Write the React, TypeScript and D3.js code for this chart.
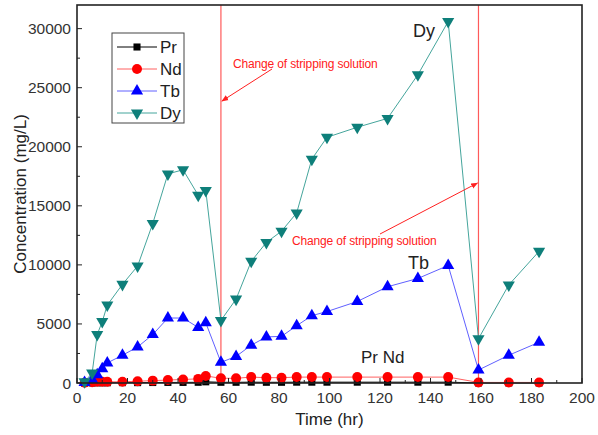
import React from "react";
import * as d3 from "d3";

// sampling times (hr)
const times = [3, 6, 8, 10, 12, 18, 24, 30, 36, 42, 48, 51, 57, 63, 69, 75, 81, 87, 93, 99, 111, 123, 135, 147, 159, 171, 183];

// concentrations (mg/L)
const pr = [0, 10, 20, 20, 20, 30, 30, 40, 50, 50, 60, 100, 60, 60, 70, 60, 60, 70, 70, 70, 70, 70, 70, 70, 5, 5, 5];
const nd = [20, 60, 100, 100, 100, 100, 150, 200, 250, 300, 350, 600, 400, 400, 500, 450, 450, 500, 500, 500, 500, 500, 500, 500, 50, 50, 50];
const tb = [50, 300, 700, 1200, 1700, 2350, 3050, 4100, 5500, 5500, 4700, 5100, 1750, 2250, 3200, 3900, 3950, 4850, 5700, 6050, 6900, 8150, 8850, 9950, 1100, 2350, 3450];
const dy = [100, 850, 4100, 5200, 6600, 8350, 9900, 13500, 17700, 18050, 15900, 16300, 5300, 7100, 10300, 11900, 12850, 14400, 18950, 20800, 21650, 22400, 26100, 30600, 3750, 8300, 11150];

const xTicks = [0, 20, 40, 60, 80, 100, 120, 140, 160, 180, 200];
const yTicks = [0, 5000, 10000, 15000, 20000, 25000, 30000];
const changeTimes = [57, 159];

const series = [
  { name: "Pr", values: pr, color: "#000000", line: "#000000", shape: "square" },
  { name: "Nd", values: nd, color: "#ff0000", line: "#ff6060", shape: "circle" },
  { name: "Tb", values: tb, color: "#0000ff", line: "#6060ff", shape: "up" },
  { name: "Dy", values: dy, color: "#0e7f7a", line: "#45a59c", shape: "down" },
];

const W = 598;
const H = 435;
const margin = { left: 77, right: 16, top: 5, bottom: 52 };
const font = "'Liberation Sans', Arial, sans-serif";

const x = d3.scaleLinear().domain([0, 200]).range([margin.left, W - margin.right]);
const y = d3.scaleLinear().domain([0, 32000]).range([H - margin.bottom, margin.top]);

const symbolPath = (shape: string) => {
  if (shape === "square") return d3.symbol(d3.symbolSquare, 50)() as string;
  if (shape === "circle") return d3.symbol(d3.symbolCircle, 78)() as string;
  return d3.symbol(d3.symbolTriangle, 64)() as string;
};

const Marker = ({ shape, cx, cy, color }: any) => (
  <path
    d={symbolPath(shape)}
    fill={color}
    transform={`translate(${cx},${cy})${shape === "down" ? " rotate(180)" : ""}`}
  />
);

export default function App() {
  const line = d3
    .line<number>()
    .x((_, i) => x(times[i]))
    .y((d) => y(d));

  const x0 = x(0), x1 = x(200), yb = y(0), yt = y(32000);
  const minorX = d3.range(10, 200, 20);
  const minorY = d3.range(2500, 32000, 5000);

  return (
    <svg width={W} height={H} style={{ position: "absolute", left: 0, top: 0, background: "#fff" }} fontFamily={font}>
      <defs>
        <marker id="arr" viewBox="0 0 10 10" refX="9" refY="5" markerWidth="7" markerHeight="7" orient="auto">
          <path d="M0,1 L10,5 L0,9 Z" fill="#ff2020" />
        </marker>
      </defs>

      {/* change of stripping solution lines */}
      {changeTimes.map((t) => (
        <line key={t} x1={x(t)} x2={x(t)} y1={yt} y2={yb} stroke="#ff5a5a" strokeWidth={1.2} />
      ))}

      {/* series lines */}
      {series.map((s) => (
        <path key={s.name} d={line(s.values) as string} fill="none" stroke={s.line} strokeWidth={1} />
      ))}
      {series.map((s) =>
        s.values.map((v, i) => (
          <Marker key={s.name + i} shape={s.shape} cx={x(times[i])} cy={y(v)} color={s.color} />
        ))
      )}

      {/* frame */}
      <rect x={x0} y={yt} width={x1 - x0} height={yb - yt} fill="none" stroke="#222" strokeWidth={1.6} />

      {/* x ticks */}
      {xTicks.map((t) => (
        <g key={t}>
          <line x1={x(t)} x2={x(t)} y1={yb} y2={yb - 5} stroke="#222" />
          <text x={x(t)} y={yb + 20} textAnchor="middle" fontSize={15.5} fill="#333">{t}</text>
        </g>
      ))}
      {minorX.map((t) => (
        <line key={t} x1={x(t)} x2={x(t)} y1={yb} y2={yb - 3} stroke="#222" />
      ))}

      {/* y ticks */}
      {yTicks.map((t) => (
        <g key={t}>
          <line x1={x0} x2={x0 + 5} y1={y(t)} y2={y(t)} stroke="#222" />
          <text x={x0 - 6} y={y(t) + 5.5} textAnchor="end" fontSize={15.5} fill="#333">{t}</text>
        </g>
      ))}
      {minorY.map((t) => (
        <line key={t} x1={x0} x2={x0 + 3} y1={y(t)} y2={y(t)} stroke="#222" />
      ))}

      {/* axis titles */}
      <text x={(x0 + x1) / 2} y={H - 10} textAnchor="middle" fontSize={17} fill="#222">Time (hr)</text>
      <text transform={`translate(26,${(yb + yt) / 2}) rotate(-90)`} textAnchor="middle" fontSize={17} fill="#222">
        Concentration (mg/L)
      </text>

      {/* legend */}
      <rect x={112} y={33} width={72} height={90} fill="#fff" stroke="#444" strokeWidth={1} />
      {series.map((s, i) => {
        const ly = 47 + i * 22;
        return (
          <g key={s.name}>
            <line x1={117} x2={157} y1={ly} y2={ly} stroke={s.line} />
            <Marker shape={s.shape} cx={137} cy={ly} color={s.color} />
            <text x={160} y={ly + 6} fontSize={17} fill="#222">{s.name}</text>
          </g>
        );
      })}

      {/* annotations */}
      <text x={233} y={68} fontSize={12} fill="#ff2020" letterSpacing={-0.15}>Change of stripping solution</text>
      <line x1={272} y1={69} x2={x(changeTimes[0]) + 1} y2={101} stroke="#ff2020" strokeWidth={1} markerEnd="url(#arr)" />
      <text x={292} y={245} fontSize={12} fill="#ff2020" letterSpacing={-0.15}>Change of stripping solution</text>
      <line x1={380} y1={234} x2={x(changeTimes[1]) - 1} y2={183} stroke="#ff2020" strokeWidth={1} markerEnd="url(#arr)" />

      <text x={413} y={37} fontSize={18} fill="#222">Dy</text>
      <text x={408} y={269} fontSize={18} fill="#222">Tb</text>
      <text x={361} y={363} fontSize={17} fill="#222">Pr  Nd</text>
    </svg>
  );
}
